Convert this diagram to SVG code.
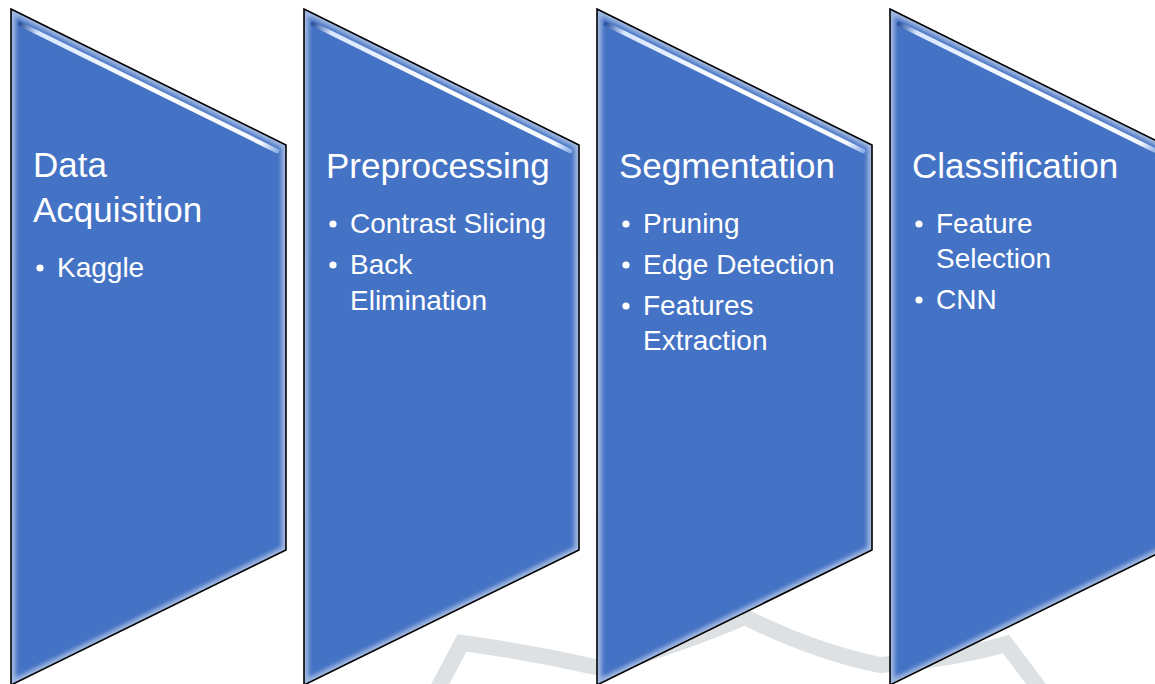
<svg xmlns="http://www.w3.org/2000/svg" xmlns:xlink="http://www.w3.org/1999/xlink" width="1155" height="684" viewBox="0 0 1155 684">
<style>
.body{fill:#4472C4}
.edge{fill:none;stroke:#000;stroke-width:1.6;stroke-linejoin:miter}
.glow{fill:none;stroke:#ffffff;stroke-width:9;opacity:.5}
.hl{fill:none;stroke:url(#hlg);stroke-width:4.5;stroke-linecap:round}
.h{font-family:"Liberation Sans",Arial,sans-serif;font-size:35px;fill:#fff}
.b{font-family:"Liberation Sans",Arial,sans-serif;font-size:28px;fill:#fff}
.dot{fill:#fff}
.wm{fill:none;stroke:#dde1e4;stroke-width:16;stroke-linejoin:miter}
</style>
<defs>
<path id="shape" d="M0,0 L275,136 L275,541 L0,676 Z"/>
<clipPath id="clip"><use xlink:href="#shape"/></clipPath>
<filter id="blur" x="-10%" y="-10%" width="120%" height="120%"><feGaussianBlur stdDeviation="2.2"/></filter>
<filter id="blur2" x="-10%" y="-50%" width="120%" height="200%"><feGaussianBlur stdDeviation="0.6"/></filter>
<linearGradient id="hlg" x1="9" y1="15" x2="266" y2="142" gradientUnits="userSpaceOnUse">
<stop offset="0" stop-color="#2f55a0"/>
<stop offset="0.07" stop-color="#d8e6ff"/>
<stop offset="0.5" stop-color="#ffffff"/>
<stop offset="0.94" stop-color="#f4f8ff"/>
<stop offset="1" stop-color="#8fb0e8"/>
</linearGradient>
</defs>
<g id="watermark">
<path class="wm" d="M436,692 L462,643 Q530,652 600,668 Q680,645 745,617 Q815,652 880,665 Q950,660 1006,644 L1042,692"/>
</g>
<g id="n1" transform="translate(11,9)">
<use xlink:href="#shape" class="body"/>
<g clip-path="url(#clip)"><use xlink:href="#shape" class="glow" filter="url(#blur)"/><line class="hl" x1="9" y1="15" x2="266" y2="142" filter="url(#blur2)"/></g>
<use xlink:href="#shape" class="edge"/>
<text class="h" x="22" y="168">Data</text>
<text class="h" x="22" y="213">Acquisition</text>
<circle class="dot" cx="29" cy="259" r="3.6"/>
<text class="b" x="46" y="268">Kaggle</text>
</g>
<g id="n2" transform="translate(304,9)">
<use xlink:href="#shape" class="body"/>
<g clip-path="url(#clip)"><use xlink:href="#shape" class="glow" filter="url(#blur)"/><line class="hl" x1="9" y1="15" x2="266" y2="142" filter="url(#blur2)"/></g>
<use xlink:href="#shape" class="edge"/>
<text class="h" x="22" y="169">Preprocessing</text>
<circle class="dot" cx="29" cy="215" r="3.6"/>
<text class="b" x="46" y="224">Contrast Slicing</text>
<circle class="dot" cx="29" cy="256" r="3.6"/>
<text class="b" x="46" y="265">Back</text>
<text class="b" x="46" y="301">Elimination</text>
</g>
<g id="n3" transform="translate(597,9)">
<use xlink:href="#shape" class="body"/>
<g clip-path="url(#clip)"><use xlink:href="#shape" class="glow" filter="url(#blur)"/><line class="hl" x1="9" y1="15" x2="266" y2="142" filter="url(#blur2)"/></g>
<use xlink:href="#shape" class="edge"/>
<text class="h" x="22" y="169">Segmentation</text>
<circle class="dot" cx="29" cy="215" r="3.6"/>
<text class="b" x="46" y="224">Pruning</text>
<circle class="dot" cx="29" cy="256" r="3.6"/>
<text class="b" x="46" y="265">Edge Detection</text>
<circle class="dot" cx="29" cy="297" r="3.6"/>
<text class="b" x="46" y="306">Features</text>
<text class="b" x="46" y="341">Extraction</text>
</g>
<g id="n4" transform="translate(890,9)">
<use xlink:href="#shape" class="body"/>
<g clip-path="url(#clip)"><use xlink:href="#shape" class="glow" filter="url(#blur)"/><line class="hl" x1="9" y1="15" x2="266" y2="142" filter="url(#blur2)"/></g>
<use xlink:href="#shape" class="edge"/>
<text class="h" x="22" y="169">Classification</text>
<circle class="dot" cx="29" cy="215" r="3.6"/>
<text class="b" x="46" y="224">Feature</text>
<text class="b" x="46" y="259">Selection</text>
<circle class="dot" cx="29" cy="291" r="3.6"/>
<text class="b" x="46" y="300">CNN</text>
</g>
</svg>
